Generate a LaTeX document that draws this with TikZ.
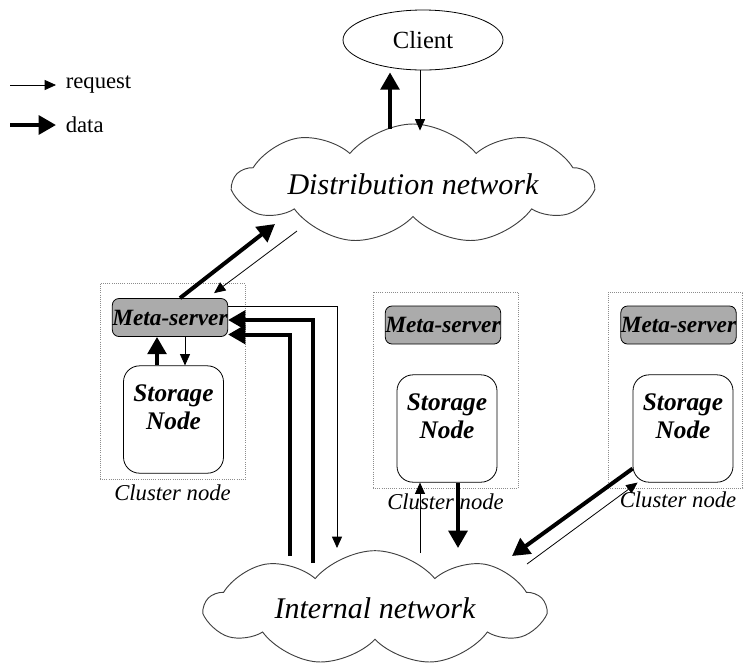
\documentclass[tikz,border=0pt]{standalone}
\usepackage{fontspec}
\setmainfont{Liberation Serif}
\usetikzlibrary{shapes.symbols,shapes.geometric,arrows.meta,calc,positioning}

\tikzset{every picture/.style={line width=0.75pt}}
\tikzset{
  request/.style={-{Triangle[length=8.5pt,width=7.5pt]},line width=0.6pt},
  data/.style={-{Triangle[length=13pt,width=14pt]},line width=3pt},
  netcloud/.style={cloud,cloud puffs=9,cloud puff arc=100,cloud ignores aspect,draw=black!75,line width=0.7pt,inner sep=0pt,font=\itshape\fontsize{22.5}{26}\selectfont},
  clusterbox/.style={draw=black!45,densely dotted,line width=0.6pt,minimum width=108.75pt,minimum height=147pt},
  metabox/.style={draw,fill=black!33,rounded corners=5pt,line width=0.6pt,inner sep=0pt,minimum width=80pt,minimum height=28.5pt,font=\bfseries\itshape\fontsize{17.5}{20}\selectfont},
  storebox/.style={draw,rounded corners=12pt,line width=0.6pt,minimum width=75pt,minimum height=80.5pt},
  storetext/.style={align=center,font=\bfseries\itshape\fontsize{19}{21}\selectfont},
  clusterlabel/.style={font=\itshape\fontsize{17}{20}\selectfont},
  legendtext/.style={anchor=west,inner sep=1pt,font=\fontsize{17}{20}\selectfont}
}

\begin{document}
\begin{tikzpicture}[x=0.75pt,y=0.75pt,yscale=-1,xscale=1]
\useasboundingbox (0,0) rectangle (745,662);

% legend
\coordinate (reqa) at (10,85);
\node[legendtext] (reqtext) at (64,85) {request};
\draw[request,shorten >=6pt] (reqa) -- (reqtext.west);
\coordinate (dataa) at (10,125);
\node[legendtext] (datatext) at (64,125) {data};
\draw[data,shorten >=6pt] (dataa) -- (datatext.west);

% client and networks
\node[ellipse,draw,line width=0.6pt,minimum width=120pt,minimum height=45pt,font=\fontsize{18.5}{20}\selectfont] (client) at (423,40) {Client};
\node[netcloud,minimum width=268pt,minimum height=90pt] (dist) at (413,184) {Distribution network};
\node[netcloud,minimum width=254pt,minimum height=86pt] (internal) at (375,608) {Internal network};

% cluster nodes
\node[clusterbox] (clu1) at (172.5,381.5) {};
\node[clusterlabel,below=0pt of clu1] (clu1label) {Cluster node};
\node[metabox] (meta1) at (170,317.5) {Meta-server};
\node[storebox,label={[storetext,yshift=9pt]center:Storage\\Node}] (store1) at (173.5,419.5) {};

\node[clusterbox] (clu2) at (445.5,390) {};
\node[clusterlabel,below=0pt of clu2] (clu2label) {Cluster node};
\node[metabox] (meta2) at (443,325) {Meta-server};
\node[storebox,label={[storetext,yshift=9pt]center:Storage\\Node}] (store2) at (447,428.5) {};

\node[clusterbox,minimum width=101pt] (clu3) at (675.5,390) {};
\node[clusterlabel] (clu3label) at (678,500) {Cluster node};
\node[metabox] (meta3) at (678.5,325) {Meta-server};
\node[storebox,label={[storetext,yshift=9pt]center:Storage\\Node}] (store3) at (683,428.5) {};

% client <-> distribution network
\draw[data] ($(dist.north)+(-23,5)$) -- ($(client.south)+(-33,2)$);
\draw[request] ($(client.south)+(-3,0)$) -- ($(dist.north)+(7,7)$);

% cluster 1
\draw[data] ($(meta1.north)+(10,0)$) -- ($(dist.center)+(-138,40)$);
\draw[request] ($(dist.center)+(-116,47)$) -- ($(meta1.north east)+(-14,-5)$);
\draw[data] ($(store1.north)+(-16.5,0)$) -- ($(meta1.south)+(-13,0)$);
\draw[request] ($(meta1.south)+(15,0)$) -- ($(store1.north)+(11.5,0)$);
\draw[request] ($(meta1.east)+(0,-11.5)$) -| ($(internal.center)+(-38,-60)$);
\draw[data] ($(internal.center)+(-62,-45)$) |- ($(meta1.east)+(0,2.5)$);
\draw[data] ($(internal.center)+(-85,-52)$) |- ($(meta1.east)+(0,17)$);

% cluster 2
\draw[request] ($(internal.center)+(45,-55)$) -- ($(store2.south)+(-27,0)$);
\draw[data] ($(store2.south)+(11,0)$) -- ($(internal.center)+(83,-60)$);

% cluster 3
\draw[data] ($(store3.south west)+(0,-14)$) -- ($(internal.center)+(137,-52)$);
\draw[request] ($(internal.center)+(152,-44)$) -- ($(store3.south west)+(5,0)$);

\end{tikzpicture}
\end{document}
